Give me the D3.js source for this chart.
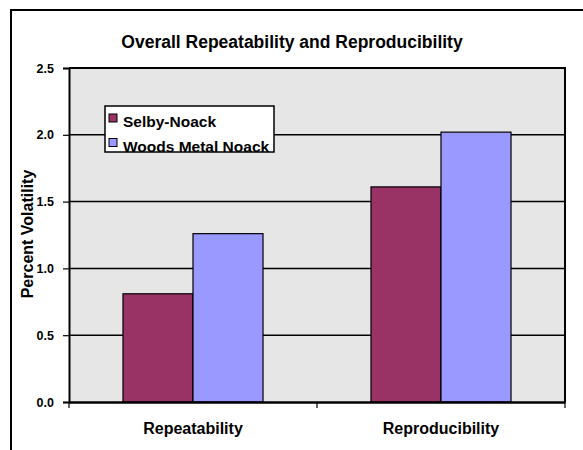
<!DOCTYPE html>
<html>
<head>
<meta charset="utf-8">
<script src="https://cdn.jsdelivr.net/npm/d3@7"></script>
<style>
  html, body { margin: 0; padding: 0; background: #fff; }
  svg { display: block; font-family: "Liberation Sans", Arial, sans-serif; font-weight: bold; }
</style>
</head>
<body>
<svg id="chart" width="583" height="450"></svg>
<script>
const categories = ["Repeatability", "Reproducibility"];
const seriesNames = ["Selby-Noack", "Woods Metal Noack"];
const selbyValues = [0.81, 1.61];
const woodsValues = [1.26, 2.02];
const yTicks = [0.0, 0.5, 1.0, 1.5, 2.0, 2.5];
const colors = ["#993366", "#9999ff"];
const titleText = "Overall Repeatability and Reproducibility";
const yTitle = "Percent Volatility";

const seriesValues = [selbyValues, woodsValues];
const svg = d3.select("#chart");
const plot = {left: 69, right: 565, top: 68, bottom: 402};

// outer frame (extends beyond right/bottom)
svg.append("rect").attr("x", 11).attr("y", 10).attr("width", 600).attr("height", 470)
  .attr("fill", "#fff").attr("stroke", "#000").attr("stroke-width", 2);

const x0 = d3.scaleBand().domain(categories).range([plot.left, plot.right]).paddingInner(0).paddingOuter(0);
const x1 = d3.scaleBand().domain(seriesNames).range([0, x0.bandwidth()]).paddingInner(0).paddingOuter(0.771);
const y = d3.scaleLinear().domain([0, 2.5]).range([plot.bottom, plot.top]);

// plot background
svg.append("rect").attr("x", plot.left).attr("y", plot.top)
  .attr("width", plot.right - plot.left).attr("height", plot.bottom - plot.top)
  .attr("fill", "#e6e6e6");

// gridlines
svg.append("g").selectAll("line").data(yTicks.filter(t => t > 0 && t < 2.5)).join("line")
  .attr("x1", plot.left).attr("x2", plot.right)
  .attr("y1", d => y(d)).attr("y2", d => y(d))
  .attr("stroke", "#000").attr("stroke-width", 1.5);

// bars
const groups = svg.append("g").selectAll("g").data(categories).join("g")
  .attr("transform", d => `translate(${x0(d)},0)`);
groups.selectAll("rect").data((c, i) => seriesNames.map((s, j) => ({s, v: seriesValues[j][i], j}))).join("rect")
  .attr("x", d => x1(d.s)).attr("width", x1.bandwidth())
  .attr("y", d => y(d.v)).attr("height", d => y(0) - y(d.v))
  .attr("fill", d => colors[d.j]).attr("stroke", "#000").attr("stroke-width", 1.2);

// plot border top/right
svg.append("path")
  .attr("d", `M${plot.left},${plot.top}H${plot.right}V${plot.bottom}`)
  .attr("fill", "none").attr("stroke", "#000").attr("stroke-width", 2);

// y axis
const yAxis = d3.axisLeft(y).tickValues(yTicks).tickFormat(d3.format(".1f")).tickSize(6).tickPadding(9);
const ya = svg.append("g").attr("transform", `translate(${plot.left},0)`).call(yAxis);
ya.select(".domain").attr("stroke-width", 2);
ya.selectAll(".tick line").attr("stroke-width", 1.2);
ya.selectAll("text").attr("font-size", 12.5).attr("font-weight", "bold").attr("font-family", "Liberation Sans, Arial, sans-serif").attr("fill", "#000");

// x axis
const xAxis = d3.axisBottom(x0).tickSize(0).tickPadding(21);
const xa = svg.append("g").attr("transform", `translate(0,${plot.bottom})`).call(xAxis);
xa.select(".domain").attr("stroke-width", 2.5);
xa.selectAll("text").attr("font-size", 16).attr("font-weight", "bold").attr("font-family", "Liberation Sans, Arial, sans-serif").attr("fill", "#000").attr("dy", "0.71em");
// category separators ticks
const sepPositions = [plot.left, x0(categories[1]), plot.right];
svg.append("g").selectAll("line").data(sepPositions).join("line")
  .attr("x1", d => d).attr("x2", d => d).attr("y1", plot.bottom).attr("y2", plot.bottom + 6)
  .attr("stroke", "#000").attr("stroke-width", 1.2);

// title
svg.append("text").attr("x", 292).attr("y", 48).attr("text-anchor", "middle")
  .attr("font-size", 17.5).text(titleText);

// y title
svg.append("text").attr("transform", "translate(33,234) rotate(-90)").attr("text-anchor", "middle")
  .attr("font-size", 16).text(yTitle);

// legend
const lg = svg.append("g");
lg.append("rect").attr("x", 105).attr("y", 106).attr("width", 169).attr("height", 46)
  .attr("fill", "#fff").attr("stroke", "#000").attr("stroke-width", 1.5);
const items = lg.selectAll("g").data(seriesNames).join("g")
  .attr("transform", (d, i) => `translate(109,${114 + i * 24.5})`);
items.append("rect").attr("width", 8).attr("height", 8)
  .attr("fill", (d, i) => colors[i]).attr("stroke", "#000").attr("stroke-width", 1);
items.append("text").attr("x", 14).attr("y", 13).attr("font-size", 15.5).text(d => d);
</script>
</body>
</html>
